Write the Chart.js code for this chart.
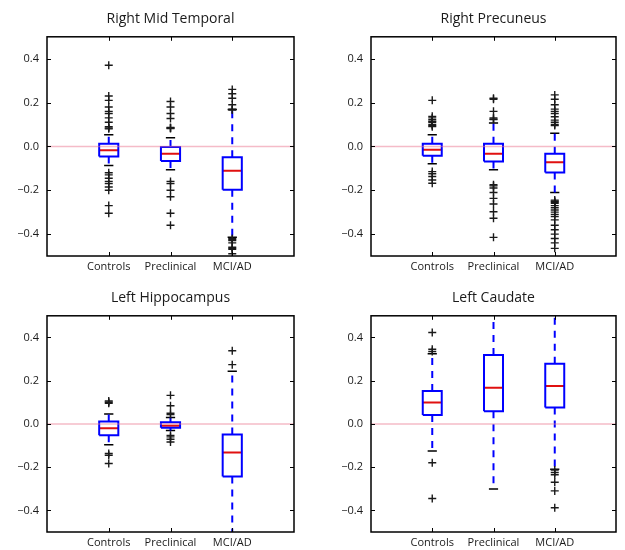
<!DOCTYPE html>
<html lang="en">
<head>
    <meta charset="UTF-8">
    <title>Regional boxplots</title>
    <script src="https://cdn.jsdelivr.net/npm/chart.js"></script>
    <style>
        body { margin: 0; background: #fff; }
        .panel { position: absolute; }
    </style>
</head>
<body>
    <div class="panel" style="left:0;top:0;width:301px;height:275px"><canvas id="c1"></canvas></div>
    <div class="panel" style="left:324px;top:0;width:301px;height:275px"><canvas id="c2"></canvas></div>
    <div class="panel" style="left:0;top:279px;width:301px;height:272px"><canvas id="c3"></canvas></div>
    <div class="panel" style="left:324px;top:279px;width:301px;height:272px"><canvas id="c4"></canvas></div>
    <script>
        var groups = ['Controls', 'Preclinical', 'MCI/AD'];
        var regions = ['Right Mid Temporal', 'Right Precuneus', 'Left Hippocampus', 'Left Caudate'];

        // per region, per group: [whisker low, q1, median, q3, whisker high]
        var rightMidTemporal = [
            [-0.087, -0.046, -0.018, 0.012, 0.053],
            [-0.107, -0.067, -0.034, -0.003, 0.040],
            [-0.415, -0.198, -0.111, -0.049, 0.168]
        ];
        var rightPrecuneus = [
            [-0.079, -0.043, -0.015, 0.012, 0.053],
            [-0.107, -0.069, -0.034, 0.012, 0.107],
            [-0.210, -0.119, -0.072, -0.034, 0.060]
        ];
        var leftHippocampus = [
            [-0.096, -0.053, -0.020, 0.011, 0.046],
            [-0.030, -0.018, -0.008, 0.008, 0.030],
            [-0.560, -0.243, -0.132, -0.049, 0.243]
        ];
        var leftCaudate = [
            [-0.125, 0.041, 0.099, 0.152, 0.325],
            [-0.301, 0.058, 0.167, 0.319, 0.560],
            [-0.210, 0.076, 0.175, 0.278, 0.560]
        ];

        // outliers per group
        var rightMidTemporalOut = [
            [0.37, 0.23, 0.21, 0.18, 0.16, 0.15, 0.13, 0.11, 0.09, 0.084, 0.08,
             -0.12, -0.13, -0.145, -0.16, -0.17, -0.185, -0.2, -0.27, -0.305],
            [0.205, 0.18, 0.15, 0.127, 0.086, 0.084, 0.082,
             -0.16, -0.17, -0.2, -0.23, -0.305, -0.36],
            [0.26, 0.24, 0.22, 0.19, 0.17, 0.166,
             -0.42, -0.425, -0.43, -0.44, -0.46, -0.465, -0.47, -0.49]
        ];
        var rightPrecuneusOut = [
            [0.21, 0.137, 0.13, 0.122, 0.115, 0.11, 0.1, 0.095, 0.09,
             -0.115, -0.125, -0.137, -0.153, -0.168],
            [0.22, 0.215, 0.16, 0.13, 0.125, 0.122,
             -0.175, -0.18, -0.19, -0.21, -0.237, -0.263, -0.298, -0.328, -0.415],
            [0.235, 0.215, 0.19, 0.17, 0.16, 0.15, 0.135, 0.12, 0.11, 0.1, 0.095,
             -0.245, -0.25, -0.255, -0.26, -0.27, -0.28, -0.29, -0.3, -0.31, -0.32,
             -0.335, -0.36, -0.38, -0.4, -0.42, -0.44, -0.465]
        ];
        var leftHippocampusOut = [
            [0.106, 0.1, 0.095, -0.137, -0.145, -0.183],
            [0.132, 0.084, 0.049, 0.043, -0.053, -0.06, -0.071, -0.084],
            [0.338, 0.274]
        ];
        var leftCaudateOut = [
            [0.423, 0.345, 0.335, -0.18, -0.345],
            [],
            [-0.213, -0.225, -0.235, -0.27, -0.31, -0.388]
        ];

        var yTicks = [-0.4, -0.2, 0.0, 0.2, 0.4];

        function segments(stats, fn) {
            var pts = [];
            stats.forEach(function (s, i) {
                fn(i + 1, s).forEach(function (p) { pts.push(p); });
                pts.push({x: i + 1, y: null});
            });
            return pts;
        }

        var boxHalf = 0.155, capHalf = 0.075;

        var framePlugin = {
            id: 'frame',
            afterDraw: function (chart) {
                var c = chart.ctx, a = chart.chartArea;
                var xs = chart.scales.x, ys = chart.scales.y;
                c.save();
                c.strokeStyle = '#000';
                c.lineWidth = 1;
                yTicks.forEach(function (v) {
                    var py = Math.round(ys.getPixelForValue(v)) + 0.5;
                    c.beginPath();
                    c.moveTo(a.left, py); c.lineTo(a.left + 4, py);
                    c.moveTo(a.right, py); c.lineTo(a.right - 4, py);
                    c.stroke();
                });
                [1, 2, 3].forEach(function (v) {
                    var px = Math.round(xs.getPixelForValue(v)) + 0.5;
                    c.beginPath();
                    c.moveTo(px, a.top); c.lineTo(px, a.top + 4);
                    c.moveTo(px, a.bottom); c.lineTo(px, a.bottom - 4);
                    c.stroke();
                });
                c.lineWidth = 1.5;
                c.strokeRect(a.left, a.top, a.right - a.left, a.bottom - a.top);
                c.restore();
            }
        };

        function makePanel(id, title, stats, outliers, padRight) {
            var outPts = [];
            outliers.forEach(function (list, i) {
                list.forEach(function (v) { outPts.push({x: i + 1, y: v}); });
            });
            var lineBase = {showLine: true, pointRadius: 0, spanGaps: false, clip: 0};
            new Chart(document.getElementById(id), {
                type: 'scatter',
                data: {
                    datasets: [
                        Object.assign({}, lineBase, {
                            data: [{x: 0, y: 0}, {x: 4, y: 0}],
                            borderColor: 'rgba(235, 120, 145, 0.5)', borderWidth: 1.5
                        }),
                        {
                            data: outPts, pointStyle: 'cross', pointRadius: 4,
                            borderColor: '#1a1a1a', borderWidth: 1.4, clip: 0
                        },
                        Object.assign({}, lineBase, {
                            data: segments(stats, function (x, s) {
                                return [{x: x, y: s[3]}, {x: x, y: s[4]}, {x: x, y: null},
                                        {x: x, y: s[1]}, {x: x, y: s[0]}];
                            }),
                            borderColor: '#0000ff', borderWidth: 2, borderDash: [7, 6]
                        }),
                        Object.assign({}, lineBase, {
                            data: segments(stats, function (x, s) {
                                return [{x: x - capHalf, y: s[4]}, {x: x + capHalf, y: s[4]}, {x: x, y: null},
                                        {x: x - capHalf, y: s[0]}, {x: x + capHalf, y: s[0]}];
                            }),
                            borderColor: '#000', borderWidth: 1.5
                        }),
                        Object.assign({}, lineBase, {
                            data: segments(stats, function (x, s) {
                                return [{x: x - boxHalf, y: s[1]}, {x: x + boxHalf, y: s[1]},
                                        {x: x + boxHalf, y: s[3]}, {x: x - boxHalf, y: s[3]},
                                        {x: x - boxHalf, y: s[1]}];
                            }),
                            borderColor: '#0000ff', borderWidth: 2
                        }),
                        Object.assign({}, lineBase, {
                            data: segments(stats, function (x, s) {
                                return [{x: x - boxHalf, y: s[2]}, {x: x + boxHalf, y: s[2]}];
                            }),
                            borderColor: '#e01010', borderWidth: 2
                        })
                    ]
                },
                options: {
                    responsive: true,
                    maintainAspectRatio: false,
                    animation: false,
                    layout: {padding: {left: 0, right: padRight, top: 0, bottom: 0}},
                    plugins: {
                        legend: {display: false},
                        tooltip: {enabled: false},
                        title: {
                            display: true, text: title, color: '#1a1a1a', fullSize: false,
                            font: {family: 'Open Sans', size: 14, weight: 'normal'},
                            padding: {top: 11, bottom: 9}
                        }
                    },
                    scales: {
                        x: {
                            type: 'linear', min: 0, max: 4,
                            grid: {display: false, drawTicks: false},
                            border: {display: false},
                            afterBuildTicks: function (s) {
                                s.ticks = [1, 2, 3].map(function (v) { return {value: v}; });
                            },
                            afterFit: function (s) { s.height = 19; },
                            ticks: {
                                padding: 4, color: '#1a1a1a', maxRotation: 0, autoSkip: false,
                                font: {family: 'Open Sans', size: 11},
                                callback: function (v) { return groups[v - 1]; }
                            }
                        },
                        y: {
                            min: -0.5, max: 0.5,
                            grid: {display: false, drawTicks: false},
                            border: {display: false},
                            afterBuildTicks: function (s) {
                                s.ticks = yTicks.map(function (v) { return {value: v}; });
                            },
                            afterFit: function (s) { s.width = 47; },
                            ticks: {
                                padding: 8, color: '#1a1a1a',
                                font: {family: 'Open Sans', size: 11},
                                callback: function (v) {
                                    var t = Math.abs(v).toFixed(1);
                                    return v < -1e-9 ? '\u2212' + t : t;
                                }
                            }
                        }
                    }
                },
                plugins: [framePlugin]
            });
        }

        makePanel('c1', regions[0], rightMidTemporal, rightMidTemporalOut, 7);
        makePanel('c2', regions[1], rightPrecuneus, rightPrecuneusOut, 9);
        makePanel('c3', regions[2], leftHippocampus, leftHippocampusOut, 7);
        makePanel('c4', regions[3], leftCaudate, leftCaudateOut, 9);
    </script>
</body>
</html>
